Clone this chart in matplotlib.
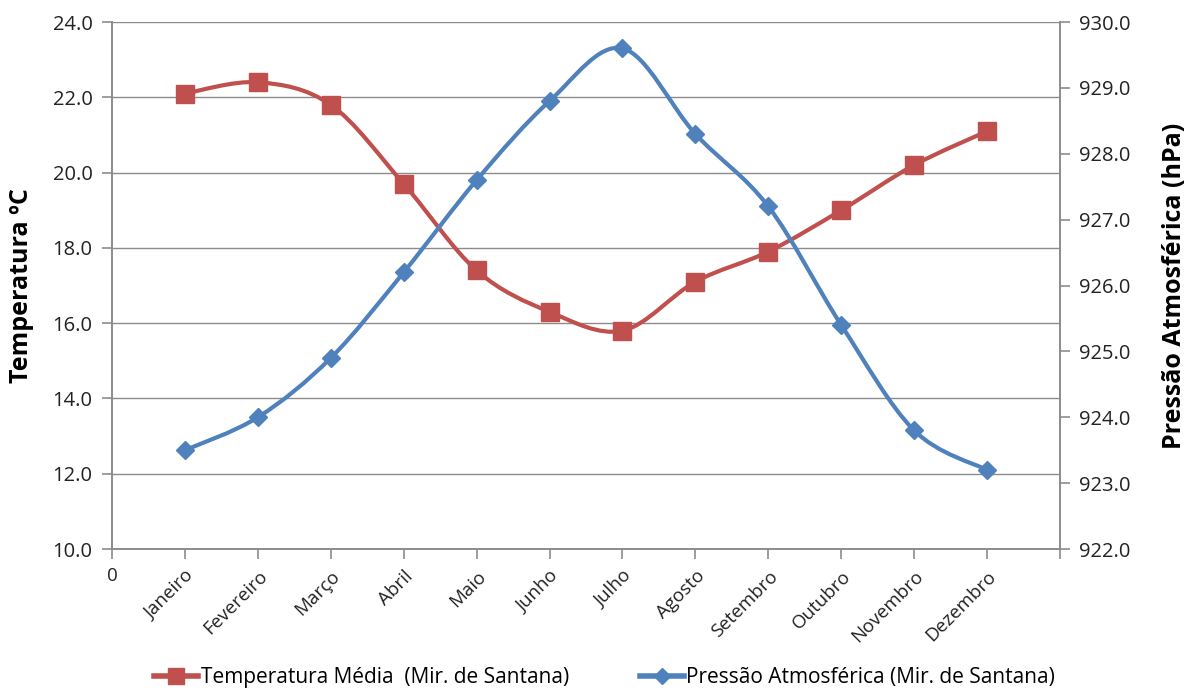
import matplotlib
matplotlib.use('Agg')
import matplotlib.pyplot as plt
import numpy as np
from matplotlib.path import Path
from matplotlib.patches import PathPatch
from matplotlib.lines import Line2D

plt.rcParams['font.family'] = ['Open Sans', 'DejaVu Sans']

months = ['Janeiro', 'Fevereiro', 'Março', 'Abril', 'Maio', 'Junho', 'Julho',
          'Agosto', 'Setembro', 'Outubro', 'Novembro', 'Dezembro']
temperatura = [22.1, 22.4, 21.8, 19.7, 17.4, 16.3, 15.8, 17.1, 17.9, 19.0, 20.2, 21.1]
pressao = [923.5, 924.0, 924.9, 926.2, 927.6, 928.8, 929.6, 928.3, 927.2, 925.4, 923.8, 923.2]

RED = '#C0504D'
BLUE = '#4F81BD'
GRID = '#8C8C8C'


def smooth_path(xs, ys):
    # Excel-like smoothed line: cubic bezier through points (Catmull-Rom style)
    xs = np.asarray(xs, float)
    ys = np.asarray(ys, float)
    n = len(xs)
    verts = [(xs[0], ys[0])]
    codes = [Path.MOVETO]
    for i in range(n - 1):
        p0 = np.array([xs[max(i - 1, 0)], ys[max(i - 1, 0)]])
        p1 = np.array([xs[i], ys[i]])
        p2 = np.array([xs[i + 1], ys[i + 1]])
        p3 = np.array([xs[min(i + 2, n - 1)], ys[min(i + 2, n - 1)]])
        c1 = p1 + (p2 - p0) / 6.0
        c2 = p2 - (p3 - p1) / 6.0
        verts += [tuple(c1), tuple(c2), tuple(p2)]
        codes += [Path.CURVE4] * 3
    return Path(verts, codes)


fig = plt.figure(figsize=(11.9, 6.9), dpi=100)
ax = fig.add_axes([0.0941, 0.2043, 0.7967, 0.7638])
ax2 = ax.twinx()

x = np.arange(1, len(months) + 1)

ax.add_patch(PathPatch(smooth_path(x, temperatura), fill=False, edgecolor=RED,
                       lw=3, capstyle='round', joinstyle='round', zorder=3))
ax.plot(x, temperatura, linestyle='none', marker='s', markersize=12.5,
        color=RED, zorder=4)

ax2.add_patch(PathPatch(smooth_path(x, pressao), fill=False, edgecolor=BLUE,
                        lw=3, capstyle='round', joinstyle='round', zorder=3))
ax2.plot(x, pressao, linestyle='none', marker='D', markersize=9,
         color=BLUE, zorder=4)

ax.set_xlim(0, 13)
ax.set_ylim(10, 24)
ax2.set_ylim(922, 930)
ax.set_yticks(np.arange(10, 24.1, 2))
ax2.set_yticks(np.arange(922, 930.1, 1))
ax.set_yticklabels([f'{v:.1f}' for v in np.arange(10, 24.1, 2)])
ax2.set_yticklabels([f'{v:.1f}' for v in np.arange(922, 930.1, 1)])

ax.set_xticks(np.arange(0, 14))
ax.set_xticklabels(['0'] + months + [''])
for i, lbl in enumerate(ax.get_xticklabels()):
    if i == 0:
        lbl.set_rotation(0)
        lbl.set_ha('center')
    else:
        lbl.set_rotation(45)
        lbl.set_ha('right')
        lbl.set_rotation_mode('anchor')

ax.yaxis.grid(True, color=GRID, lw=1)
ax.set_axisbelow(True)

for a in (ax, ax2):
    for s in a.spines.values():
        s.set_color(GRID)
        s.set_linewidth(1.2)
    a.spines['top'].set_visible(False)
    a.tick_params(axis='both', colors=GRID, length=7, width=1.2, labelsize=14.5,
                  labelcolor='#222222', pad=7)

ax.tick_params(axis='x', labelsize=13.5, pad=6)

ax.set_ylabel('Temperatura ºC', fontsize=18, fontweight='bold')
ax2.set_ylabel('Pressão Atmosférica (hPa)', fontsize=18, fontweight='bold')
ax.yaxis.set_label_coords(-0.082, 0.5)
ax2.yaxis.set_label_coords(1.108, 0.5)

handles = [
    Line2D([], [], color=RED, lw=4, marker='s', markersize=11),
    Line2D([], [], color=BLUE, lw=4, marker='D', markersize=8),
]
labels = ['Temperatura Média  (Mir. de Santana)', 'Pressão Atmosférica (Mir. de Santana)']
fig.legend(handles, labels, loc='center', bbox_to_anchor=(0.508, 0.018), ncol=2,
           frameon=False, fontsize=15, handlelength=2.15, columnspacing=3.4,
           handletextpad=0.1)

fig.savefig('out.png', dpi=100)
